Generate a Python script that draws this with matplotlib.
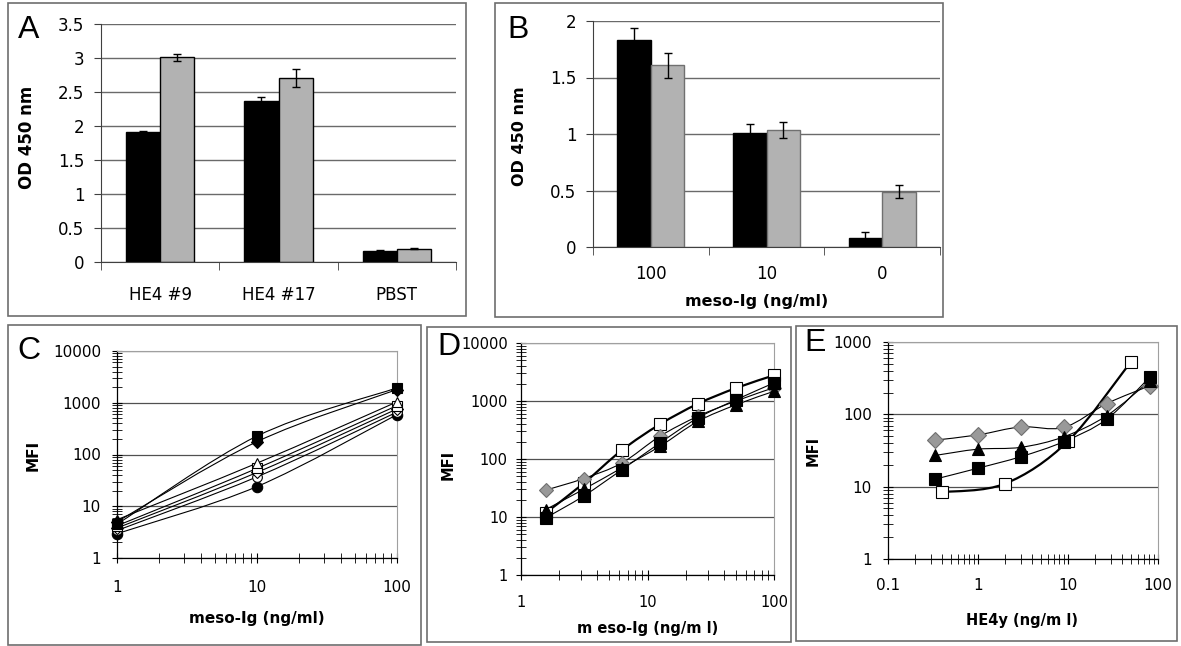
import numpy as np
import matplotlib
matplotlib.use("Agg")
import matplotlib.pyplot as plt
from matplotlib.path import Path
from matplotlib.patches import PathPatch, Rectangle
from matplotlib.ticker import FixedLocator, NullFormatter, LogLocator

# ---- data -------------------------------------------------------------
a_groups = ["HE4 #9", "HE4 #17", "PBST"]
a_black = [1.91, 2.37, 0.155]
a_black_err = [0.02, 0.06, 0.02]
a_gray = [3.01, 2.71, 0.195]
a_gray_err = [0.055, 0.135, 0.006]

b_groups = ["100", "10", "0"]
b_black = [1.83, 1.005, 0.077]
b_black_err = [0.11, 0.08, 0.055]
b_gray = [1.61, 1.035, 0.49]
b_gray_err = [0.11, 0.074, 0.055]

c_x = [1, 10, 100]
c_sq_fill = [4.5, 227, 1940]
c_dia_fill = [5.0, 177, 1800]
c_tri_open = [5.5, 68, 1040]
c_sq_open = [4.2, 54, 880]
c_dia_open = [3.8, 45, 760]
c_circ_open = [3.4, 37, 660]
c_circ_fill = [2.95, 24, 590]

d_x = [1.5625, 3.125, 6.25, 12.5, 25, 50, 100]
d_sq_open = [11.7, 38, 141, 395, 895, 1670, 2770]
d_diamond = [29, 46, 85, 246, 545, 1000, 1700]
d_triangle = [13.4, 30, 70, 165, 445, 860, 1470]
d_sq_fill = [9.6, 23, 65, 188, 510, 1050, 2050]

e_x = [0.333, 1, 3, 9, 27, 81]
e_diamond = [44, 52, 67, 66, 141, 248]
e_triangle = [27, 33, 35, 49, 96, 290]
e_sq_fill = [12.7, 18, 26, 42, 86, 327]
e_open_x = [0.4, 2, 10, 50]
e_sq_open = [8.4, 11, 42.6, 533]

# ---- layout helpers ---------------------------------------------------
W, H = 1181, 646
fig = plt.figure(figsize=(W / 100, H / 100), dpi=100)
plt.rcParams['font.family'] = ['DejaVu Sans']


def rect(l, t, r, b):
    return [l / W, 1 - b / H, (r - l) / W, (b - t) / H]


def box(l, t, r, b):
    fig.add_artist(Rectangle((l / W, 1 - b / H), (r - l) / W, (b - t) / H,
                             transform=fig.transFigure, fill=False,
                             ec='#6e6e6e', lw=1.2))


def ftext(x, y, s, **kw):
    fig.text(x / W, 1 - y / H, s, ha='center', va='center', **kw)


def smooth_path(x, y):
    # excel-style smoothed line, built in log-log space
    pts = np.column_stack([np.log10(x), np.log10(y)])
    verts = [pts[0]]
    codes = [Path.MOVETO]
    n = len(pts)
    for i in range(n - 1):
        p0, p3 = pts[i], pts[i + 1]
        pm = pts[i - 1] if i > 0 else p0
        pn = pts[i + 2] if i + 2 < n else p3
        verts += [p0 + (p3 - pm) / 6, p3 - (pn - p0) / 6, p3]
        codes += [Path.CURVE4] * 3
    return Path(10 ** np.array(verts), codes)


def bar_panel(ax, groups, black, black_err, gray, gray_err, ymax, step,
              gray_edge, fs, xpad):
    x = np.arange(len(groups))
    w = 0.29
    ax.bar(x - w / 2, black, w, color='black', ec='black', lw=1, zorder=2)
    ax.bar(x + w / 2, gray, w, color='#b2b2b2', ec=gray_edge, lw=1, zorder=2)
    ax.errorbar(x - w / 2, black, yerr=black_err, fmt='none', ecolor='black',
                elinewidth=1, capsize=3, zorder=3)
    ax.errorbar(x + w / 2, gray, yerr=gray_err, fmt='none', ecolor='black',
                elinewidth=1, capsize=3, zorder=3)
    ax.set_xlim(-0.5, len(groups) - 0.5)
    ax.set_ylim(0, ymax)
    yt = np.arange(0, ymax + step / 2, step)
    ax.set_yticks(yt)
    ax.set_yticklabels([f"{v:g}" for v in yt])
    ax.yaxis.grid(True, color='#6a6a6a', lw=1)
    ax.set_axisbelow(True)
    ax.set_xticks(x)
    ax.set_xticklabels(groups)
    ax.set_xticks(np.arange(-0.5, len(groups)), minor=True)
    ax.tick_params(axis='x', which='major', length=0, pad=xpad, labelsize=fs)
    ax.tick_params(axis='x', which='minor', length=6, direction='out',
                   color='#404040')
    ax.tick_params(axis='y', length=5, direction='out', color='#404040',
                   pad=7, labelsize=fs)
    for s in ['top', 'right']:
        ax.spines[s].set_visible(False)
    for s in ['left', 'bottom']:
        ax.spines[s].set_color('#404040')


def log_panel(ax, xlim, ylim, xmaj, ymaj, fs, xpad, ypad):
    ax.set_xscale('log')
    ax.set_yscale('log')
    ax.set_xlim(*xlim)
    ax.set_ylim(*ylim)
    ax.xaxis.set_major_locator(FixedLocator(xmaj))
    ax.yaxis.set_major_locator(FixedLocator(ymaj))
    ax.set_xticklabels([f"{v:g}" for v in xmaj])
    ax.set_yticklabels([f"{v:g}" for v in ymaj])
    ax.xaxis.set_minor_locator(LogLocator(base=10, subs=range(2, 10)))
    ax.yaxis.set_minor_locator(LogLocator(base=10, subs=range(2, 10)))
    ax.xaxis.set_minor_formatter(NullFormatter())
    ax.yaxis.set_minor_formatter(NullFormatter())
    ax.tick_params(which='major', direction='inout', length=7, width=0.8,
                   labelsize=fs)
    ax.tick_params(which='minor', direction='inout', length=7, width=0.6)
    ax.tick_params(axis='x', pad=xpad)
    ax.tick_params(axis='y', pad=ypad)
    ax.yaxis.grid(True, which='major', color='#505050', lw=0.9)
    ax.set_axisbelow(True)
    for s in ['top', 'right']:
        ax.spines[s].set_color('#a0a0a0')
    for s in ['left', 'bottom']:
        ax.spines[s].set_color('black')
        ax.spines[s].set_linewidth(0.9)


def series(ax, x, y, marker, mfc, ms, lw=0.8, mec='black'):
    ax.add_patch(PathPatch(smooth_path(x, y), fill=False, ec='black', lw=lw,
                           zorder=2))
    ax.plot(x, y, ls='none', marker=marker, mfc=mfc, mec=mec, ms=ms,
            mew=0.8, zorder=3, clip_on=False)


# ---- panel A ----------------------------------------------------------
box(8, 3, 466, 316)
axA = fig.add_axes(rect(101, 24, 456, 262))
bar_panel(axA, a_groups, a_black, a_black_err, a_gray, a_gray_err,
          3.5, 0.5, 'black', 12, 17)
ftext(27, 137, "OD 450 nm", rotation=90, fontsize=12, fontweight='bold')
ftext(29, 30, "A", fontsize=23, family='Liberation Sans')

# ---- panel B ----------------------------------------------------------
box(495, 3, 943, 317)
axB = fig.add_axes(rect(593, 21, 940, 247))
bar_panel(axB, b_groups, b_black, b_black_err, b_gray, b_gray_err,
          2, 0.5, '#707070', 12, 13)
ftext(519, 136, "OD 450 nm", rotation=90, fontsize=11.5, fontweight='bold')
ftext(757, 301, "meso-Ig (ng/ml)", fontsize=11.5, fontweight='bold')
ftext(518, 30, "B", fontsize=23, family='Liberation Sans')

# ---- panel C ----------------------------------------------------------
box(8, 325, 421, 645)
axC = fig.add_axes(rect(117, 351, 397, 558))
log_panel(axC, (1, 100), (1, 10000), [1, 10, 100],
          [1, 10, 100, 1000, 10000], 11, 12, 8)
series(axC, c_x, c_circ_fill, 'o', 'black', 7.5)
series(axC, c_x, c_circ_open, 'o', 'white', 7)
series(axC, c_x, c_dia_open, 'D', 'white', 6)
series(axC, c_x, c_sq_open, 's', 'white', 6.5)
series(axC, c_x, c_tri_open, '^', 'white', 7)
series(axC, c_x, c_dia_fill, 'D', 'black', 6.5)
series(axC, c_x, c_sq_fill, 's', 'black', 7)
ftext(33, 455, "MFI", rotation=90, fontsize=11, fontweight='bold')
ftext(257, 619, "meso-Ig (ng/ml)", fontsize=11, fontweight='bold')
ftext(29, 351, "C", fontsize=23, family='Liberation Sans')

# ---- panel D ----------------------------------------------------------
box(427, 327, 791, 642)
axD = fig.add_axes(rect(521, 343, 774, 575))
log_panel(axD, (1, 100), (1, 10000), [1, 10, 100],
          [1, 10, 100, 1000, 10000], 10.5, 11, 6)
series(axD, d_x, d_sq_open, 's', 'white', 8.5, lw=1.6)
series(axD, d_x, d_diamond, 'D', '#999999', 7, mec='#707070')
series(axD, d_x, d_triangle, '^', 'black', 8.5)
series(axD, d_x, d_sq_fill, 's', 'black', 8.5)
ftext(448, 465, "MFI", rotation=90, fontsize=10.5, fontweight='bold')
ftext(648, 628, "m eso-Ig (ng/m l)", fontsize=10.5, fontweight='bold')
ftext(449, 347, "D", fontsize=23, family='Liberation Sans')

# ---- panel E ----------------------------------------------------------
box(796, 326, 1177, 641)
axE = fig.add_axes(rect(888, 342, 1158, 559))
log_panel(axE, (0.1, 100), (1, 1000), [0.1, 1, 10, 100],
          [1, 10, 100, 1000], 11, 10, 8)
series(axE, e_open_x, e_sq_open, 's', 'white', 8.5, lw=1.6)
series(axE, e_x, e_diamond, 'D', '#999999', 8, mec='#707070')
series(axE, e_x, e_triangle, '^', 'black', 8.5)
series(axE, e_x, e_sq_fill, 's', 'black', 8.5)
ftext(813, 451, "MFI", rotation=90, fontsize=10.5, fontweight='bold')
ftext(1022, 620, "HE4y (ng/m l)", fontsize=10.5, fontweight='bold')
ftext(815, 343, "E", fontsize=23, family='Liberation Sans')

fig.savefig("out.png", dpi=100)
